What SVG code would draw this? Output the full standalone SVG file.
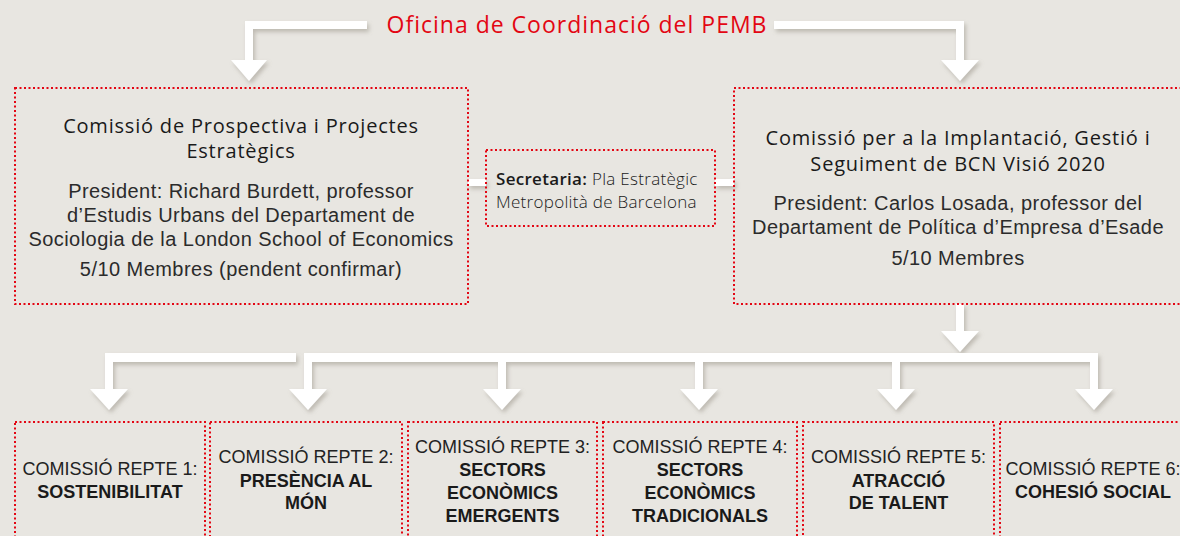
<svg xmlns="http://www.w3.org/2000/svg" width="1180" height="536" viewBox="0 0 1180 536">
<defs>
<filter id="sh" x="-10%" y="-10%" width="130%" height="140%">
<feDropShadow dx="2" dy="3" stdDeviation="2.2" flood-color="#8c8578" flood-opacity="0.45"/>
</filter>
</defs>
<style>
.bg{fill:#e8e6e1}
.box{fill:none;stroke:#e30613;stroke-width:2;stroke-dasharray:2 2.5}
.arr{fill:#ffffff}
.title{font-family:"Open Sans","Liberation Sans",sans-serif;font-size:23px;letter-spacing:1px;fill:#e30613;text-anchor:middle}
.h{font-family:"Open Sans","Liberation Sans",sans-serif;font-size:20px;letter-spacing:0.8px;fill:#1a1a1a;text-anchor:middle}
.t{font-family:"Liberation Sans",Arial,sans-serif;font-size:20px;letter-spacing:0.45px;fill:#2b2b2b;text-anchor:middle}
.s{font-family:"Open Sans","Liberation Sans",sans-serif;font-size:17px;letter-spacing:0.3px;font-weight:300;fill:#1a1a1a}
.sb{font-weight:600}
.c{font-family:"Liberation Sans",Arial,sans-serif;font-size:18px;fill:#222222;text-anchor:middle}
.cb{font-family:"Liberation Sans",Arial,sans-serif;font-size:18px;font-weight:bold;fill:#1a1a1a;text-anchor:middle}
</style>
<rect class="bg" x="0" y="0" width="1180" height="536"/>

<g id="connectors" filter="url(#sh)">
<path class="arr" d="M367,21 H245 V60 H231 L249,81 L267,60 H253 V29 H367 Z"/>
<path class="arr" d="M774,21 H964 V60 H979 L960,81 L941,60 H956 V29 H774 Z"/>
<rect class="arr" x="468" y="179" width="18" height="7"/>
<rect class="arr" x="715" y="179" width="19" height="7"/>
<path class="arr" d="M956,304 H964 V331 H979 L960,352 L941,331 H956 Z"/>
<path class="arr" d="M296,353 H105 V389 H90 L109,410 L128,389 H113 V362 H296 Z"/>
<rect class="arr" x="304" y="353" width="794" height="9"/>
<path class="arr" d="M304,362 H312 V389 H327 L308,410 L289,389 H304 Z"/>
<path class="arr" d="M498,362 H506 V389 H521 L502,410 L483,389 H498 Z"/>
<path class="arr" d="M695,362 H703 V389 H718 L699,410 L680,389 H695 Z"/>
<path class="arr" d="M892,362 H900 V389 H915 L896,410 L877,389 H892 Z"/>
<path class="arr" d="M1090,362 H1098 V389 H1113 L1094,410 L1075,389 H1090 Z"/>
</g>

<g id="oficina">
<text class="title" x="577" y="33">Oficina de Coordinació del PEMB</text>
</g>

<g id="prospectiva">
<rect class="box" x="15" y="88" width="453" height="216"/>
<text class="h" x="241" y="133">Comissió de Prospectiva i Projectes</text>
<text class="h" x="241" y="158">Estratègics</text>
<text class="t" x="241" y="198">President: Richard Burdett, professor</text>
<text class="t" x="241" y="222">d’Estudis Urbans del Departament de</text>
<text class="t" x="241" y="246">Sociologia de la London School of Economics</text>
<text class="t" x="241" y="276">5/10 Membres (pendent confirmar)</text>
</g>

<g id="secretaria">
<rect class="box" x="486" y="150" width="229" height="76"/>
<text class="s" x="496" y="185"><tspan class="sb">Secretaria:</tspan> Pla Estratègic</text>
<text class="s" x="496" y="208">Metropolità de Barcelona</text>
</g>

<g id="implantacio">
<rect class="box" x="734" y="88" width="450" height="216"/>
<text class="h" x="958" y="145">Comissió per a la Implantació, Gestió i</text>
<text class="h" x="958" y="171">Seguiment de BCN Visió 2020</text>
<text class="t" x="958" y="210">President: Carlos Losada, professor del</text>
<text class="t" x="958" y="234">Departament de Política d’Empresa d’Esade</text>
<text class="t" x="958" y="265">5/10 Membres</text>
</g>

<g id="repte1">
<rect class="box" x="15" y="422" width="190" height="140"/>
<text class="c" x="110" y="475">COMISSIÓ REPTE 1:</text>
<text class="cb" x="110" y="498">SOSTENIBILITAT</text>
</g>
<g id="repte2">
<rect class="box" x="210" y="422" width="192" height="140"/>
<text class="c" x="306" y="463">COMISSIÓ REPTE 2:</text>
<text class="cb" x="306" y="487">PRESÈNCIA AL</text>
<text class="cb" x="306" y="509">MÓN</text>
</g>
<g id="repte3">
<rect class="box" x="408" y="422" width="189" height="140"/>
<text class="c" x="502.5" y="453">COMISSIÓ REPTE 3:</text>
<text class="cb" x="502.5" y="476">SECTORS</text>
<text class="cb" x="502.5" y="499">ECONÒMICS</text>
<text class="cb" x="502.5" y="522">EMERGENTS</text>
</g>
<g id="repte4">
<rect class="box" x="603" y="422" width="194" height="140"/>
<text class="c" x="700" y="453">COMISSIÓ REPTE 4:</text>
<text class="cb" x="700" y="476">SECTORS</text>
<text class="cb" x="700" y="499">ECONÒMICS</text>
<text class="cb" x="700" y="522">TRADICIONALS</text>
</g>
<g id="repte5">
<rect class="box" x="803" y="422" width="191" height="140"/>
<text class="c" x="898.5" y="463">COMISSIÓ REPTE 5:</text>
<text class="cb" x="898.5" y="487">ATRACCIÓ</text>
<text class="cb" x="898.5" y="509">DE TALENT</text>
</g>
<g id="repte6">
<rect class="box" x="1000" y="422" width="190" height="140"/>
<text class="c" x="1093" y="475">COMISSIÓ REPTE 6:</text>
<text class="cb" x="1093" y="498">COHESIÓ SOCIAL</text>
</g>
</svg>
